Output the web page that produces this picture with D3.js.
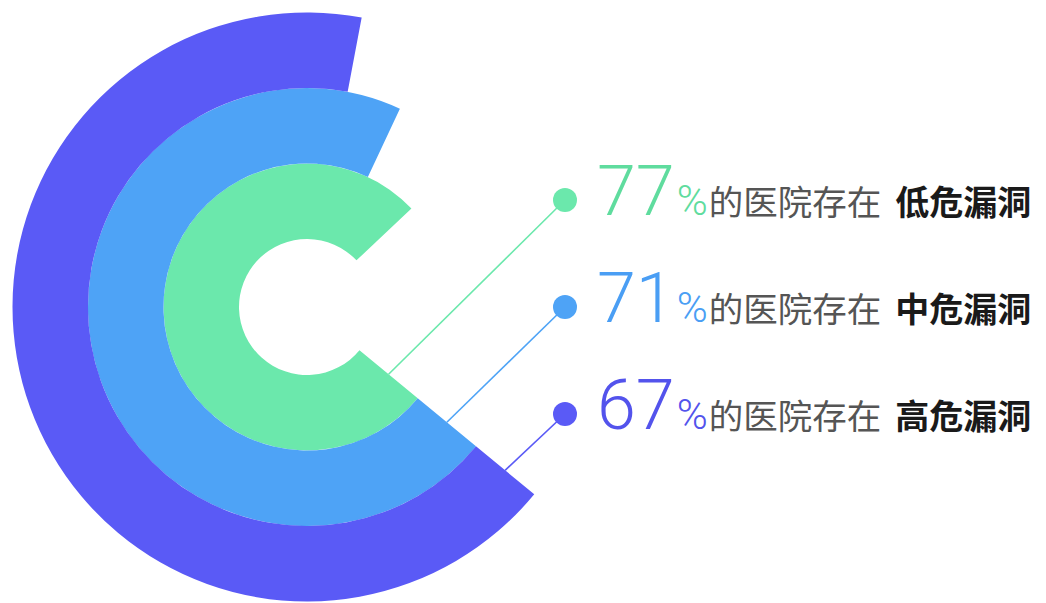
<!DOCTYPE html>
<html>
<head>
<meta charset="utf-8">
<script src="https://cdn.jsdelivr.net/npm/d3@7"></script>
<style>
  html, body { margin: 0; padding: 0; background: #fff; }
  svg { display: block; }
</style>
</head>
<body>
<div id="chart"></div>
<script>
// data
const levels = ["低危漏洞", "中危漏洞", "高危漏洞"];
const percents = [77, 71, 67];
const colors = ["#6be8ac", "#4ea3f6", "#5a5af6"];
const textColors = ["#5fdc9e", "#4a9ef4", "#5353ec"];
const phrase = "的医院存在";

const width = 1046,
    height = 603,
    cx = 307, cy = 307,
    holeRadius = 68,
    bandWidth = 75.5,
    startAngle = 129.5 * Math.PI / 180;

const svg = d3.select("#chart").append("svg")
    .attr("width", width)
    .attr("height", height);

const angle = d3.scaleLinear()
    .domain([0, 100])
    .range([0, 2 * Math.PI]);

// ring index -> inner radius (0 = innermost)
const radius = d3.scaleLinear()
    .domain([0, 1])
    .range([holeRadius, holeRadius + bandWidth]);

const arc = d3.arc()
    .innerRadius((d, i) => radius(i))
    .outerRadius((d, i) => radius(i + 1))
    .startAngle(startAngle)
    .endAngle(d => startAngle + angle(d));

const g = svg.append("g")
    .attr("transform", `translate(${cx},${cy})`);

g.selectAll("path.ring")
    .data(percents)
    .enter().append("path")
    .attr("class", "ring")
    .attr("d", (d, i) => arc(d, i))
    .attr("fill", (d, i) => colors[i]);

// legend rows
const rowY = d3.scalePoint()
    .domain(levels)
    .range([200, 414]);

const dotX = 565;

g.selectAll("line.leader")
    .data(percents)
    .enter().append("line")
    .attr("class", "leader")
    .attr("x1", (d, i) => d3.pointRadial(startAngle, radius(i + 0.5))[0])
    .attr("y1", (d, i) => d3.pointRadial(startAngle, radius(i + 0.5))[1])
    .attr("x2", dotX - cx)
    .attr("y2", (d, i) => rowY(levels[i]) - cy)
    .attr("stroke", (d, i) => colors[i])
    .attr("stroke-width", 1.6);

svg.selectAll("circle.dot")
    .data(levels)
    .enter().append("circle")
    .attr("class", "dot")
    .attr("cx", dotX)
    .attr("cy", d => rowY(d))
    .attr("r", 12)
    .attr("fill", (d, i) => colors[i]);

const label = svg.selectAll("text.label")
    .data(levels)
    .enter().append("text")
    .attr("class", "label")
    .attr("x", 597)
    .attr("y", d => rowY(d) + 15);

label.append("tspan")
    .text((d, i) => percents[i])
    .attr("fill", (d, i) => textColors[i])
    .style("font-family", "Roboto, 'Noto Sans', sans-serif")
    .style("font-weight", 300)
    .style("font-size", "70px");

label.append("tspan")
    .text("%")
    .attr("dx", 2)
    .attr("fill", (d, i) => textColors[i])
    .style("font-family", "Roboto, 'Noto Sans', sans-serif")
    .style("font-weight", 300)
    .style("font-size", "42px");

label.append("tspan")
    .text(phrase)
    .attr("dx", 1)
    .attr("fill", "#555")
    .style("font-family", "'Noto Sans CJK SC', sans-serif")
    .style("font-size", "34.5px");

label.append("tspan")
    .text(d => d)
    .attr("dx", 14)
    .attr("fill", "#1a1a1a")
    .style("font-family", "'Noto Sans CJK SC', sans-serif")
    .style("font-weight", 700)
    .style("font-size", "34px");
</script>
</body>
</html>
